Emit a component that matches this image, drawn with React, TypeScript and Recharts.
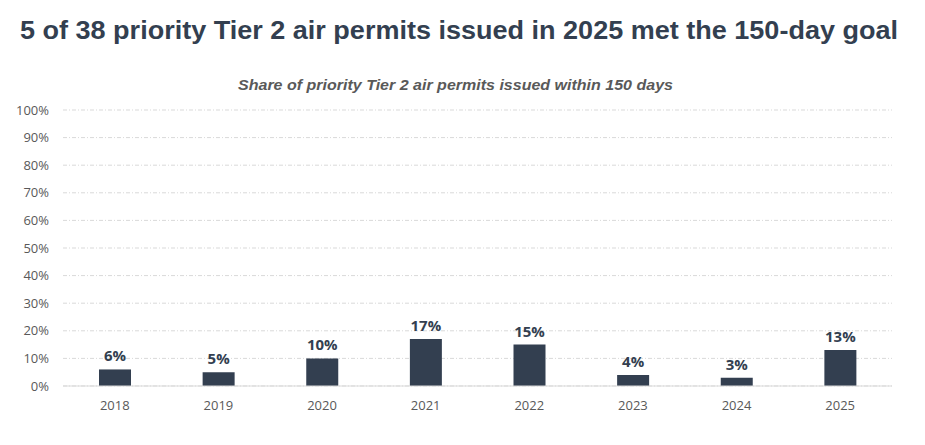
import React from 'react';
import { BarChart, Bar, XAxis, YAxis, CartesianGrid, LabelList } from 'recharts';

const years = ['2018', '2019', '2020', '2021', '2022', '2023', '2024', '2025'];
const shareWithin150 = [6, 5, 10, 17, 15, 4, 3, 13];
const yTicks = [0, 10, 20, 30, 40, 50, 60, 70, 80, 90, 100];

const data = years.map((year, i) => ({ year, share: shareWithin150[i] }));

const NAVY = '#333f50';
const GRAY = '#595959';
const TITLE_FONT = '"Liberation Sans", Arial, sans-serif';

export default function App() {
  return (
    <div style={{ position: 'absolute', left: 0, top: 0, width: 925, height: 445, background: '#fff' }}>
      <svg width={925} height={100} style={{ position: 'absolute', left: 0, top: 0 }}>
        <text
          x={20}
          y={39}
          textLength={878}
          lengthAdjust="spacingAndGlyphs"
          fontFamily={TITLE_FONT}
          fontWeight={700}
          fontSize={26}
          fill={NAVY}
        >
          5 of 38 priority Tier 2 air permits issued in 2025 met the 150-day goal
        </text>
        <text
          x={238}
          y={89.5}
          textLength={435}
          lengthAdjust="spacingAndGlyphs"
          fontFamily={TITLE_FONT}
          fontWeight={700}
          fontStyle="italic"
          fontSize={14}
          fill={GRAY}
        >
          Share of priority Tier 2 air permits issued within 150 days
        </text>
      </svg>
      <BarChart
        width={925}
        height={445}
        data={data}
        margin={{ top: 110, right: 33, bottom: 29, left: 8 }}
        style={{ position: 'absolute', left: 0, top: 0 }}
      >
        <CartesianGrid vertical={false} stroke="#d9d9d9" strokeDasharray="4 2 1 2" />
        <XAxis
          dataKey="year"
          height={30}
          tickLine={false}
          tickSize={0}
          tickMargin={15}
          axisLine={{ stroke: '#d9d9d9' }}
          tick={{ fill: GRAY, fontSize: 13, fontFamily: '"Open Sans", sans-serif' }}
        />
        <YAxis
          width={55}
          domain={[0, 100]}
          ticks={yTicks}
          interval={0}
          tickFormatter={(v) => `${v}%`}
          axisLine={false}
          tickLine={false}
          tickSize={0}
          tickMargin={14}
          tick={{ fill: GRAY, fontSize: 13, fontFamily: '"Open Sans", sans-serif' }}
        />
        <Bar dataKey="share" fill={NAVY} barSize={32} isAnimationActive={false}>
          <LabelList
            dataKey="share"
            position="top"
            offset={8}
            formatter={(v) => `${v}%`}
            style={{ fill: NAVY, fontSize: 15, fontWeight: 700, fontFamily: '"Open Sans", sans-serif' }}
          />
        </Bar>
      </BarChart>
    </div>
  );
}
